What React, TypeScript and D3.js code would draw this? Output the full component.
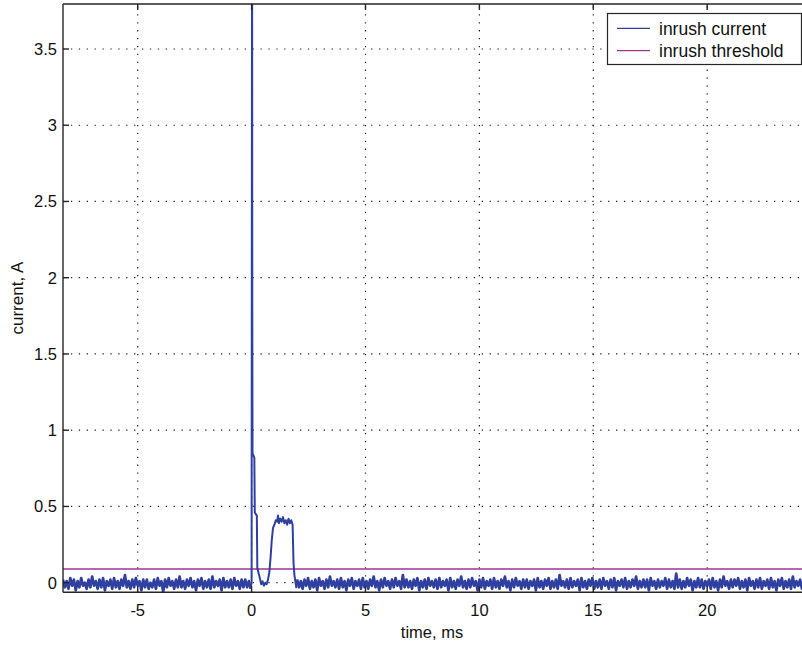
import React from "react";
import * as d3 from "d3";

// ---- data ----
const xTicks = [-5, 0, 5, 10, 15, 20, 25];
const xTickLabels = [-5, 0, 5, 10, 15, 20];
const yTicks = [0, 0.5, 1, 1.5, 2, 2.5, 3, 3.5];
const xDomain = [-8.28, 24.47];
const yDomain = [-0.063, 3.795];
const sampleStep = 0.08; // ms
const beforeStart = -8.28;
const afterStart = 2.0;
const thresholdValue = 0.09;
const seriesNames = ["inrush current", "inrush threshold"];

const noiseBefore = [
  0.02,-0.03,0.01,-0.04,0.03,-0.02,0.02,-0.05,0.01,-0.03,
  0.03,-0.02,0.00,-0.04,0.02,-0.03,0.04,-0.02,0.01,-0.04,
  0.02,-0.03,0.03,-0.05,0.01,-0.02,0.02,-0.04,0.03,-0.03,
  0.01,-0.04,0.02,-0.02,0.05,-0.03,0.01,-0.04,0.02,-0.03,
  0.03,-0.02,0.01,-0.05,0.02,-0.03,0.02,-0.04,0.00,-0.03,
  0.02,-0.04,0.03,-0.02,0.01,-0.06,0.02,-0.03,0.03,-0.02,
  0.01,-0.04,0.02,-0.03,0.04,-0.03,0.01,-0.04,0.02,-0.02,
  0.03,-0.03,0.01,-0.05,0.02,-0.02,0.03,-0.04,0.01,-0.03,
  0.02,-0.04,0.04,-0.03,0.01,-0.02,0.02,-0.05,0.03,-0.03,
  0.01,-0.03,0.02,-0.04,0.03,-0.02,0.01,-0.04,0.02,-0.03,
  0.02,-0.03,0.01,-0.04,
];

const pulseTime = [
  0.0, 0.02, 0.03, 0.04, 0.12, 0.14, 0.23, 0.25, 0.31, 0.36, 0.42, 0.48, 0.54,
  0.6, 0.66, 0.72, 0.78, 0.84, 0.88, 0.94, 1.0, 1.06, 1.12, 1.16, 1.2, 1.26,
  1.32, 1.38, 1.44, 1.5, 1.56, 1.62, 1.68, 1.74, 1.8, 1.84, 1.88, 1.92, 1.96,
];
const pulseCurrent = [
  0.01, 4.6, 1.79, 0.85, 0.82, 0.46, 0.44, 0.1, 0.06, 0.03, -0.01, 0.01, -0.02,
  0.0, -0.01, 0.02, 0.07, 0.18, 0.27, 0.36, 0.38, 0.41, 0.4, 0.44, 0.39, 0.42,
  0.4, 0.43, 0.39, 0.41, 0.38, 0.42, 0.39, 0.41, 0.38, 0.13, 0.05, 0.01, -0.03,
];

const noiseAfter = [
  0.02,-0.03,0.01,-0.04,0.02,-0.02,0.03,-0.04,0.01,-0.03,
  0.02,-0.05,0.03,-0.02,0.01,-0.04,0.02,-0.03,0.04,-0.02,
  0.01,-0.03,0.02,-0.04,0.03,-0.03,0.01,-0.05,0.02,-0.02,
  0.03,-0.04,0.01,-0.02,0.02,-0.04,0.03,-0.03,0.01,-0.04,
  0.02,-0.02,0.04,-0.03,0.01,-0.05,0.02,-0.03,0.03,-0.02,
  0.01,-0.04,0.02,-0.03,0.03,-0.02,0.01,-0.04,0.05,-0.03,
  0.02,-0.03,0.01,-0.04,0.02,-0.02,0.03,-0.05,0.01,-0.03,
  0.02,-0.04,0.03,-0.02,0.01,-0.03,0.02,-0.04,0.03,-0.03,
  0.01,-0.02,0.02,-0.05,0.03,-0.03,0.01,-0.04,0.02,-0.02,
  0.04,-0.03,0.01,-0.04,0.02,-0.03,0.03,-0.02,0.01,-0.05,
  0.02,-0.03,0.03,-0.04,0.01,-0.02,0.02,-0.04,0.03,-0.03,
  0.01,-0.04,0.02,-0.02,0.04,-0.03,0.01,-0.05,0.02,-0.03,
  0.03,-0.02,0.01,-0.04,0.02,-0.03,0.02,-0.04,0.01,-0.02,
  0.02,-0.05,0.03,-0.03,0.01,-0.04,0.02,-0.02,0.03,-0.04,
  0.01,-0.03,0.02,-0.04,0.05,-0.02,0.01,-0.03,0.02,-0.04,
  0.03,-0.03,0.01,-0.02,0.02,-0.05,0.03,-0.03,0.01,-0.04,
  0.02,-0.02,0.03,-0.04,0.01,-0.03,0.02,-0.04,0.03,-0.02,
  0.01,-0.04,0.02,-0.03,0.03,-0.05,0.01,-0.02,0.02,-0.03,
  0.03,-0.04,0.01,-0.03,0.02,-0.02,0.04,-0.04,0.01,-0.03,
  0.02,-0.03,0.02,-0.05,0.03,-0.02,0.01,-0.04,0.02,-0.03,
  0.01,-0.02,0.03,-0.04,0.02,-0.03,0.01,-0.04,0.06,-0.03,
  0.02,-0.04,0.01,-0.03,0.03,-0.02,0.02,-0.05,0.01,-0.03,
  0.03,-0.03,0.02,-0.04,0.01,-0.02,0.02,-0.04,0.03,-0.03,
  0.01,-0.05,0.02,-0.03,0.04,-0.02,0.01,-0.04,0.02,-0.03,
  0.02,-0.02,0.03,-0.04,0.01,-0.03,0.02,-0.05,0.03,-0.02,
  0.01,-0.04,0.02,-0.03,0.03,-0.04,0.01,-0.02,0.02,-0.04,
  0.03,-0.03,0.01,-0.05,0.02,-0.02,0.03,-0.04,0.01,-0.03,
  0.02,-0.04,0.04,-0.03,0.01,-0.02,0.02,-0.04,0.03,-0.03,
  0.01,-0.03,0.02,-0.04,
];

// ---- layout ----
const W = 802;
const H = 646;
const left = 63;
const right = 809;
const top = 4;
const bottom = 592.3;
const blue = "#2f40a0";
const purple = "#a0309a";
const axisColor = "#262626";
const font = "'Liberation Sans', Arial, Helvetica, sans-serif";

type Pt = [number, number];

export default function App() {
  const x = d3.scaleLinear().domain(xDomain).range([left, right]);
  const y = d3.scaleLinear().domain(yDomain).range([bottom, top]);

  const before: Pt[] = noiseBefore.map((v, i) => [beforeStart + i * sampleStep, v] as Pt);
  const pulse: Pt[] = pulseTime.map((t, i) => [t, pulseCurrent[i]] as Pt);
  const after: Pt[] = noiseAfter.map((v, i) => [afterStart + i * sampleStep, v] as Pt);
  const pulseJoined: Pt[] = [before[before.length - 1], ...pulse, after[0]];

  const line = d3
    .line<Pt>()
    .x((d) => x(d[0]))
    .y((d) => y(d[1]));

  const tickLen = 6;
  const legX = 607.5;
  const legY = 13.5;
  const legW = 194;
  const legH = 51;

  return (
    <svg
      width={W}
      height={H}
      style={{ position: "absolute", left: 0, top: 0, background: "#fff" }}
      fontFamily={font}
    >
      <defs>
        <clipPath id="plotClip">
          <rect x={left} y={top} width={right - left} height={bottom - top} />
        </clipPath>
      </defs>
      <rect x={0} y={0} width={W} height={H} fill="#fff" />
      {/* grid */}
      <g stroke="#222" strokeWidth={1.2} strokeDasharray="1.3,6.6" clipPath="url(#plotClip)">
        {xTicks.map((t) => (
          <line key={"gx" + t} x1={x(t)} x2={x(t)} y1={bottom} y2={top} />
        ))}
        {yTicks.map((t) => (
          <line key={"gy" + t} x1={left} x2={right} y1={y(t)} y2={y(t)} />
        ))}
      </g>
      {/* data */}
      <g clipPath="url(#plotClip)" fill="none">
        <line
          x1={x(xDomain[0])}
          x2={x(xDomain[1])}
          y1={y(thresholdValue)}
          y2={y(thresholdValue)}
          stroke={purple}
          strokeWidth={1.4}
        />
        <path d={line(before) || ""} stroke={blue} strokeWidth={2.7} strokeLinejoin="round" />
        <path d={line(after) || ""} stroke={blue} strokeWidth={2.7} strokeLinejoin="round" />
        <path d={line(pulseJoined) || ""} stroke={blue} strokeWidth={2.0} strokeLinejoin="round" />
      </g>
      {/* axes box */}
      <g stroke={axisColor} strokeWidth={1.4} fill="none">
        <line x1={left} x2={left} y1={top} y2={bottom} />
        <line x1={left} x2={right} y1={bottom} y2={bottom} />
        <line x1={left} x2={right} y1={top} y2={top} />
        <line x1={right} x2={right} y1={top} y2={bottom} />
        {xTicks.map((t) => (
          <g key={"tx" + t}>
            <line x1={x(t)} x2={x(t)} y1={bottom} y2={bottom - tickLen} />
            <line x1={x(t)} x2={x(t)} y1={top} y2={top + tickLen} />
          </g>
        ))}
        {yTicks.map((t) => (
          <g key={"ty" + t}>
            <line x1={left} x2={left + tickLen} y1={y(t)} y2={y(t)} />
            <line x1={right} x2={right - tickLen} y1={y(t)} y2={y(t)} />
          </g>
        ))}
      </g>
      {/* tick labels */}
      <g fontSize={16.5} fill="#111">
        {xTickLabels.map((t) => (
          <text key={"lx" + t} x={x(t)} y={bottom + 24} textAnchor="middle">
            {String(t)}
          </text>
        ))}
        {yTicks.map((t) => (
          <text key={"ly" + t} x={left - 6} y={y(t) + 6} textAnchor="end">
            {String(t)}
          </text>
        ))}
      </g>
      <text x={(left + right) / 2 - 4} y={638} fontSize={16.5} textAnchor="middle" fill="#111">
        time, ms
      </text>
      <text
        transform={`translate(23, ${(top + bottom) / 2}) rotate(-90)`}
        fontSize={17}
        textAnchor="middle"
        fill="#111"
      >
        current, A
      </text>
      {/* legend */}
      <g>
        <rect x={legX} y={legY} width={legW} height={legH} fill="#fff" stroke={axisColor} strokeWidth={1.2} />
        <line x1={617} x2={650} y1={28.3} y2={28.3} stroke={blue} strokeWidth={1.3} />
        <line x1={617} x2={650} y1={50.7} y2={50.7} stroke={purple} strokeWidth={1.3} />
        <text x={659} y={34.5} fontSize={17.5} fill="#111">
          {seriesNames[0]}
        </text>
        <text x={659} y={57} fontSize={17.5} fill="#111">
          {seriesNames[1]}
        </text>
      </g>
    </svg>
  );
}
